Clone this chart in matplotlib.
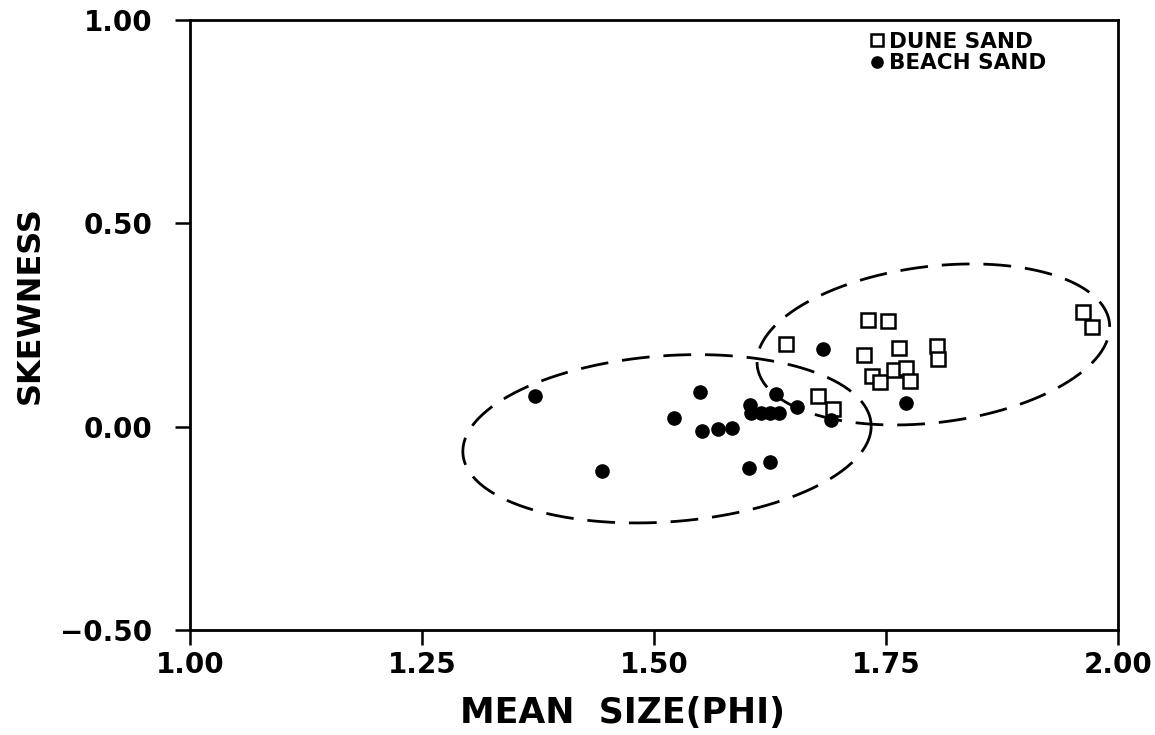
import numpy as np
import matplotlib
matplotlib.use("Agg")
import matplotlib.pyplot as plt

plt.rcParams['font.family'] = ['DejaVu Sans']
plt.rcParams['font.weight'] = 'bold'

# dune sand (open squares)
dune_x = [1.642, 1.677, 1.693, 1.731, 1.752, 1.726, 1.764, 1.805, 1.806,
          1.735, 1.743, 1.759, 1.771, 1.776, 1.962, 1.972]
dune_y = [0.202, 0.076, 0.044, 0.261, 0.259, 0.177, 0.194, 0.197, 0.166,
          0.124, 0.109, 0.138, 0.143, 0.111, 0.283, 0.244]

# beach sand (filled circles)
beach_x = [1.372, 1.444, 1.521, 1.550, 1.552, 1.569, 1.584, 1.603, 1.605,
           1.615, 1.625, 1.635, 1.631, 1.654, 1.691, 1.602, 1.625, 1.682, 1.771]
beach_y = [0.076, -0.110, 0.021, 0.085, -0.012, -0.007, -0.003, 0.054, 0.034,
           0.033, 0.033, 0.034, 0.079, 0.048, 0.017, -0.102, -0.088, 0.191, 0.057]

# hand drawn envelopes: centre x, centre y, half width, half height, tilt
env_cx = [1.514, 1.801]
env_cy = [-0.030, 0.202]
env_rx = [0.220, 0.190]
env_ry = [0.207, 0.198]
env_tilt = [0.15, 0.22]

xticks = [1.00, 1.25, 1.50, 1.75, 2.00]
yticks = [-0.50, 0.00, 0.50, 1.00]
xtick_labels = ['1.00', '1.25', '1.50', '1.75', '2.00']
ytick_labels = ['\u22120.50', '0.00', '0.50', '1.00']

fig = plt.figure(figsize=(11.55, 7.35), dpi=100)
ax = fig.add_axes([0.1645, 0.143, 0.8035, 0.8298])

t = np.linspace(0, 2 * np.pi, 400)
for cx, cy, rx, ry, d in zip(env_cx, env_cy, env_rx, env_ry, env_tilt):
    ax.plot(cx + rx * np.cos(t), cy + ry * np.sin(t + d), color='black',
            lw=2.0, linestyle=(0, (10, 5)), zorder=1)

ax.plot(dune_x, dune_y, linestyle='none', marker='s', markersize=10.5,
        markerfacecolor='white', markeredgecolor='black', markeredgewidth=1.8,
        label='DUNE SAND', zorder=3)
ax.plot(beach_x, beach_y, linestyle='none', marker='o', markersize=9.5,
        color='black', label='BEACH SAND', zorder=3)

ax.set_xlim(1.0, 2.0)
ax.set_ylim(-0.5, 1.0)
ax.set_xticks(xticks)
ax.set_xticklabels(xtick_labels, fontsize=20, fontweight='bold')
ax.set_yticks(yticks)
ax.set_yticklabels(ytick_labels, fontsize=20, fontweight='bold')
ax.tick_params(axis='x', direction='out', length=11, width=1.8, pad=4)
ax.tick_params(axis='y', direction='out', length=11, width=1.8, pad=16)
for s in ax.spines.values():
    s.set_linewidth(2.0)

ax.set_xlabel('MEAN  SIZE(PHI)', fontsize=25, fontweight='bold')
ax.xaxis.set_label_coords(0.466, -0.108)
ax.set_ylabel('SKEWNESS', fontsize=23, fontweight='bold')
ax.yaxis.set_label_coords(-0.155, 0.533)

ax.legend(loc='upper left', bbox_to_anchor=(0.715, 1.005), frameon=False,
          handletextpad=0.15, handlelength=0.8, markerscale=0.85,
          labelspacing=0.05, borderpad=0.2, prop={'weight': 'bold', 'size': 15.5})

fig.savefig('out.png', dpi=100, facecolor='white')
